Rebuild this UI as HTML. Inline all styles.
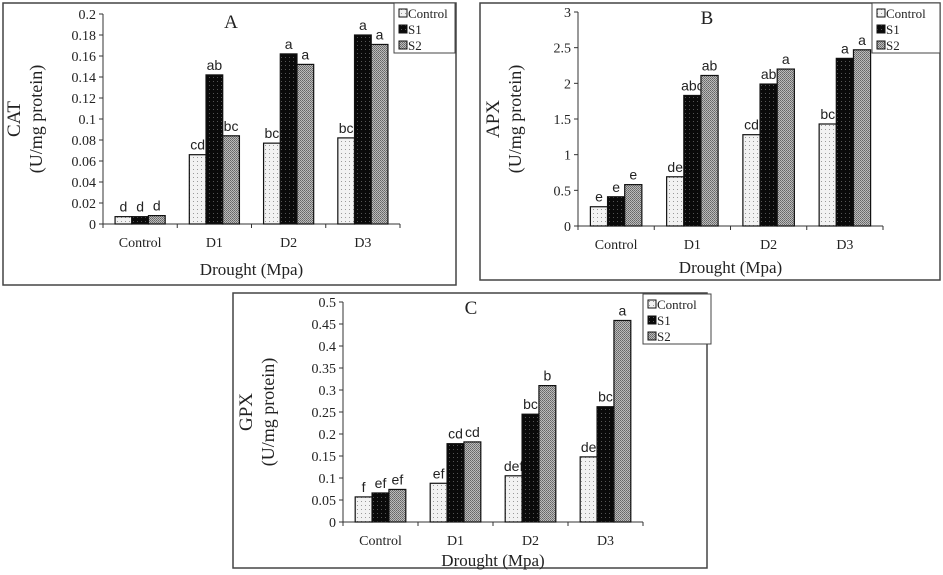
<!DOCTYPE html>
<html><head><meta charset="utf-8"><style>
html,body{margin:0;padding:0;background:#fff;}
svg{display:block;}
.tk{font-family:"Liberation Serif",serif;font-size:14px;fill:#222;}
.ttl{font-family:"Liberation Serif",serif;font-size:17px;fill:#222;}
.lt{font-family:"Liberation Sans",sans-serif;font-size:14px;fill:#222;}
.lg{font-family:"Liberation Serif",serif;font-size:13px;fill:#222;}
</style></head><body>
<svg id="fig" width="943" height="575" viewBox="0 0 943 575">
<defs>
<pattern id="pC" width="4" height="4" patternUnits="userSpaceOnUse"><rect width="4" height="4" fill="#f2f2f2"/><rect x="1" y="1" width="1" height="1" fill="#999"/></pattern>
<pattern id="pS1" width="4" height="4" patternUnits="userSpaceOnUse"><rect width="4" height="4" fill="#0a0a0a"/><rect x="1" y="1" width="1" height="1" fill="#555"/></pattern>
<pattern id="pS2" width="2" height="2" patternUnits="userSpaceOnUse"><rect width="2" height="2" fill="#bbb"/><rect width="1" height="1" fill="#666"/><rect x="1" y="1" width="1" height="1" fill="#777"/></pattern>
</defs>
</svg>
<script>
const categories = ["Control","D1","D2","D3"];
const seriesNames = ["Control","S1","S2"];
const catControl = [0.007,0.066,0.077,0.082];
const catS1 = [0.007,0.142,0.162,0.180];
const catS2 = [0.008,0.084,0.152,0.171];
const catLetters = [["d","cd","bc","bc"],["d","ab","a","a"],["d","bc","a","a"]];
const catTicks = ["0","0.02","0.04","0.06","0.08","0.1","0.12","0.14","0.16","0.18","0.2"];
const apxControl = [0.27,0.69,1.28,1.43];
const apxS1 = [0.41,1.83,1.99,2.35];
const apxS2 = [0.58,2.11,2.20,2.47];
const apxLetters = [["e","de","cd","bc"],["e","abc","ab","a"],["e","ab","a","a"]];
const apxTicks = ["0","0.5","1","1.5","2","2.5","3"];
const gpxControl = [0.057,0.088,0.105,0.148];
const gpxS1 = [0.066,0.178,0.245,0.262];
const gpxS2 = [0.074,0.182,0.310,0.458];
const gpxLetters = [["f","ef","def","de"],["ef","cd","bc","bc"],["ef","cd","b","a"]];
const gpxTicks = ["0","0.05","0.1","0.15","0.2","0.25","0.3","0.35","0.4","0.45","0.5"];

const NS="http://www.w3.org/2000/svg";
const svg=document.getElementById('fig');
function mk(tag,attrs,parent,txt){const e=document.createElementNS(NS,tag);for(const k in attrs)e.setAttribute(k,attrs[k]);if(txt!==undefined)e.textContent=txt;(parent||svg).appendChild(e);return e;}
const fills=["url(#pC)","url(#pS1)","url(#pS2)"];

function panel(cfg){
  const g=mk('g',{});
  
  
  const fr=mk('rect',{x:cfg.fx,y:cfg.fy,width:cfg.fw,height:cfg.fh,fill:'none',stroke:'#444','stroke-width':1.5},g);
  
  
  const ticks=cfg.ticks, max=parseFloat(ticks[ticks.length-1]);
  const y=v=>cfg.y0-(v/max)*(cfg.y0-cfg.yTop);
  const cw=(cfg.xEnd-cfg.x0)/categories.length;
  const x=i=>cfg.x0+cw*i;
  const ax=mk('line',{x1:cfg.x0,y1:cfg.yTop,x2:cfg.x0,y2:cfg.y0,stroke:'#333'},g);
  
  
  const xa=mk('line',{x1:cfg.x0,y1:cfg.y0,x2:cfg.xEnd,y2:cfg.y0,stroke:'#333'},g);
  
  
  ticks.forEach(t=>{const v=parseFloat(t),yy=y(v);
    mk('line',{x1:cfg.x0-4,y1:yy,x2:cfg.x0,y2:yy,stroke:'#333'},g);
    const tl=mk('text',{x:cfg.x0-7,y:yy+5,'text-anchor':'end',class:'tk'},g,t);
    
    
  });
  for(let i=0;i<=categories.length;i++){mk('line',{x1:x(i),y1:cfg.y0,x2:x(i),y2:cfg.y0+4,stroke:'#333'},g);}
  const bw=cw*0.225;
  categories.forEach((c,i)=>{
    const cx=x(i)+cw/2;
    const cl=mk('text',{x:cx,y:cfg.y0+23,'text-anchor':'middle',class:'tk'},g,c);
    
    
    cfg.series.forEach((s,k)=>{
      const bx=cx-1.5*bw+k*bw, top=y(s[i]);
      const r=mk('rect',{x:bx,y:top,width:bw,height:cfg.y0-top,fill:fills[k],stroke:'#111','stroke-width':1.2},g);
      
      
      const lt=mk('text',{x:bx+bw/2,y:top-5,'text-anchor':'middle',class:'lt'},g,cfg.letters[k][i]);
      
      
    });
  });
  const tt=mk('text',{x:cfg.tx,y:cfg.ty,'text-anchor':'middle',class:'ttl',style:'font-size:19px'},g,cfg.title);
  
  
  const xl=mk('text',{x:(cfg.x0+cfg.xEnd)/2,y:cfg.xly,'text-anchor':'middle',class:'ttl'},g,'Drought (Mpa)');
  
  
  const my=(cfg.y0+cfg.yTop)/2;
  const yl=mk('text',{x:cfg.ylx,y:my,'text-anchor':'middle',class:'ttl',style:'font-size:19px',transform:`rotate(-90 ${cfg.ylx} ${my})`},g,cfg.ylab);
  
  
  const yl2=mk('text',{x:cfg.ylx+22,y:my,'text-anchor':'middle',class:'ttl',style:'font-size:18px',transform:`rotate(-90 ${cfg.ylx+22} ${my})`},g,'(U/mg protein)');
  
  
  const lg=mk('g',{},g);
  
  
  mk('rect',{x:cfg.lx,y:cfg.ly,width:cfg.lw,height:50,fill:'#fff',stroke:'#444'},lg);
  seriesNames.forEach((n,k)=>{
    mk('rect',{x:cfg.lx+5,y:cfg.ly+6+k*16,width:8,height:8,fill:fills[k],stroke:'#111'},lg);
    const le=mk('text',{x:cfg.lx+14,y:cfg.ly+15+k*16,class:'lg'},lg,n);
    
    
  });
}
panel({name:'chart-cat',fx:3,fy:3,fw:453,fh:282,x0:103,xEnd:400,y0:224,yTop:14,ticks:catTicks,
  series:[catControl,catS1,catS2],letters:catLetters,title:'A',tx:231,ty:28,xly:275,ylx:20,ylab:'CAT',lx:394,ly:3,lw:61});
panel({name:'chart-apx',fx:480,fy:3,fw:460,fh:277,x0:578,xEnd:883,y0:226,yTop:12,ticks:apxTicks,
  series:[apxControl,apxS1,apxS2],letters:apxLetters,title:'B',tx:707,ty:24,xly:273,ylx:499,ylab:'APX',lx:872,ly:3,lw:68});
panel({name:'chart-gpx',fx:233,fy:293,fw:474,fh:275,x0:343,xEnd:643,y0:522,yTop:302,ticks:gpxTicks,
  series:[gpxControl,gpxS1,gpxS2],letters:gpxLetters,title:'C',tx:471,ty:314,xly:566,ylx:252,ylab:'GPX',lx:643,ly:294,lw:68});
</script>
</body></html>
